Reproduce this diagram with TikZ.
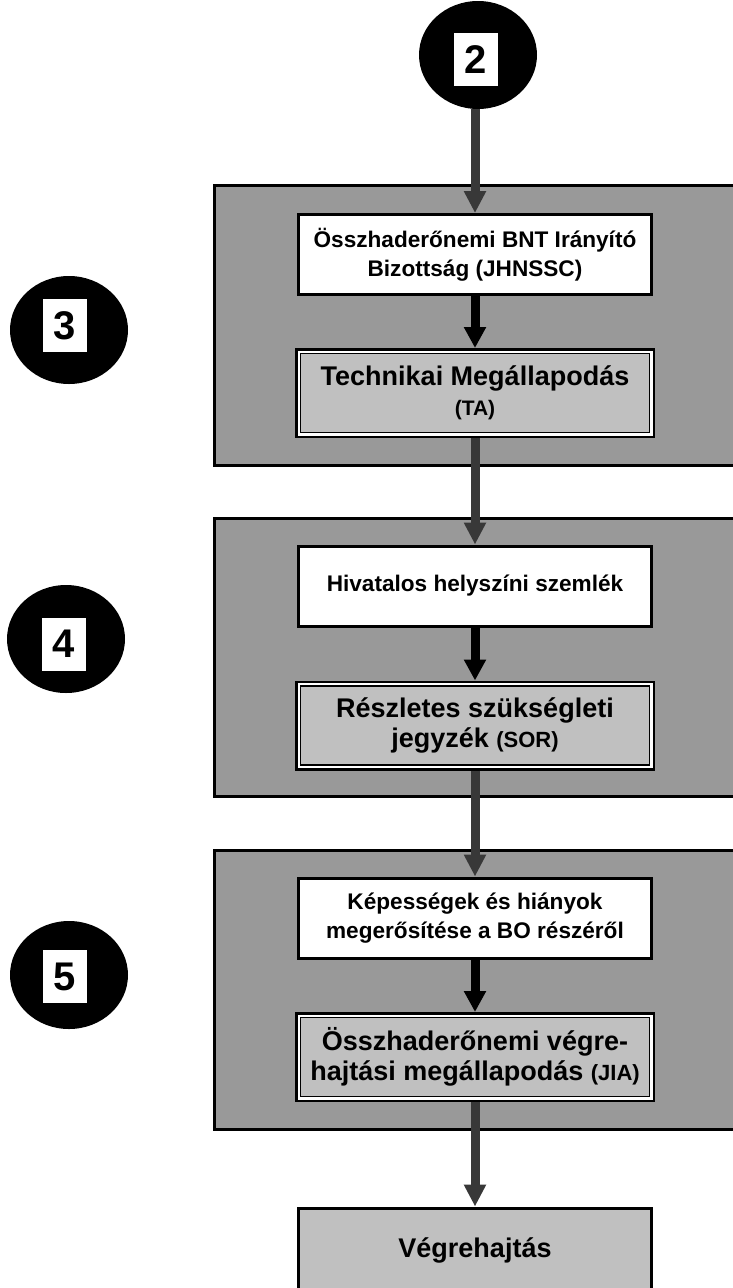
\documentclass[tikz,border=0pt]{standalone}
\usepackage{fontspec}
\setmainfont{Liberation Sans}
\usetikzlibrary{arrows.meta,shapes.geometric}
\definecolor{panelgray}{HTML}{999999}
\definecolor{lightgray}{HTML}{C0C0C0}
\definecolor{arrowgray}{HTML}{383838}
\begin{document}
\begin{tikzpicture}[x=1pt,y=-1pt,
  panel/.style={draw=black,line width=3pt,fill=panelgray},
  whitebox/.style={draw=black,line width=3pt,fill=white,minimum width=353pt,minimum height=80pt,inner sep=0pt,align=center,
    font=\bfseries\fontsize{22.6}{29}\selectfont},
  dblbox/.style={draw=black,line width=1.5pt,fill=lightgray,minimum width=349pt,minimum height=79pt,inner sep=0pt,align=center,
    outer sep=5.5pt,
    preaction={draw=black,line width=11pt},
    preaction={draw=white,line width=6pt},
    font=\bfseries\fontsize{27}{30}\selectfont},
  endbox/.style={draw=black,line width=3pt,fill=lightgray,minimum width=353pt,minimum height=84pt,inner sep=0pt,align=center,
    font=\bfseries\fontsize{27}{30}\selectfont},
  badge/.style={ellipse,fill=black,minimum width=118pt,minimum height=108pt,inner sep=0pt},
  numsq/.style={fill=white,minimum width=44pt,minimum height=53pt,inner sep=0pt,font=\bfseries\fontsize{40}{40}\selectfont},
  darrow/.style={draw=arrowgray,line width=9pt,-{Triangle[width=21pt,length=22pt]},arrowgray},
  barrow/.style={draw=black,line width=9pt,-{Triangle[width=21pt,length=21pt]},black}]
\useasboundingbox (0,0) rectangle (732,1288);
% panels
\draw[panel] (214,185) rectangle (745,465);
\draw[panel] (214,518) rectangle (745,796);
\draw[panel] (214,850) rectangle (745,1129);
% badges
\node[badge] (c2) at (478,55) {};
\node[numsq] (n2) at (476,59.5) {2};
\node[badge] (c3) at (69,330) {};
\node[numsq] (n3) at (65,325.5) {3};
\node[badge] (c4) at (66,639) {};
\node[numsq] (n4) at (64,644) {4};
\node[badge] (c5) at (69,975) {};
\node[numsq] (n5) at (65,976.5) {5};
% boxes
\node[whitebox] (b1) at (475,254.5) {Összhaderőnemi BNT Irányító\\Bizottság (JHNSSC)};
\node[dblbox] (ta) at (475,393) {Technikai Megállapodás\\{\fontsize{21}{30}\selectfont (TA)}};
\node[whitebox] (hiv) at (475,586) {Hivatalos helyszíni szemlék};
\node[dblbox] (sor) at (475,725.5) {Részletes szükségleti\\jegyzék {\fontsize{22}{30}\selectfont (SOR)}};
\node[whitebox] (kep) at (475,918) {Képességek és hiányok\\megerősítése a BO részéről};
\node[dblbox] (jia) at (475,1057) {Összhaderőnemi végre-\\hajtási megállapodás {\fontsize{22}{30}\selectfont (JIA)}};
\node[endbox] (veg) at (475,1250) {Végrehajtás};
% arrows
\draw[darrow] (b1.north |- c2.south) -- (b1.north);
\draw[barrow] (b1.south) -- (ta.north);
\draw[darrow] (ta.south) -- (hiv.north);
\draw[barrow] (hiv.south) -- (sor.north);
\draw[darrow] (sor.south) -- (kep.north);
\draw[barrow] (kep.south) -- (jia.north);
\draw[darrow] (jia.south) -- (veg.north);
\end{tikzpicture}
\end{document}
